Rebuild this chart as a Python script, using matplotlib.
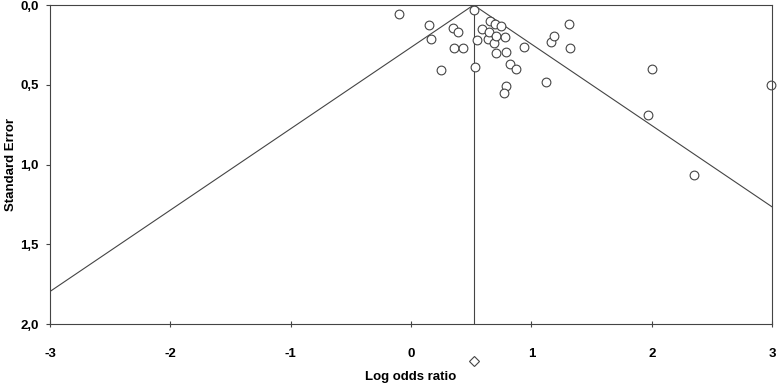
import numpy as np
import matplotlib.pyplot as plt
from matplotlib.ticker import FuncFormatter

# studies: log odds ratio and standard error
log_or = [-0.10, 0.15, 0.17, 0.35, 0.39, 0.36, 0.43, 0.25, 0.52, 0.53,
          0.55, 0.59, 0.64, 0.65, 0.66, 0.69, 0.71, 0.70, 0.75, 0.78,
          0.71, 0.79, 0.82, 0.87, 0.79, 0.77, 0.94, 1.12, 1.16, 1.19,
          1.31, 1.32, 2.00, 1.97, 2.35, 2.99]
std_err = [0.058, 0.123, 0.211, 0.146, 0.169, 0.268, 0.272, 0.408, 0.033, 0.387,
           0.219, 0.150, 0.213, 0.171, 0.098, 0.236, 0.194, 0.119, 0.132, 0.199,
           0.299, 0.295, 0.372, 0.403, 0.506, 0.552, 0.261, 0.483, 0.234, 0.192,
           0.121, 0.272, 0.401, 0.690, 1.064, 0.504]
pooled = 0.52
diamond_se = 2.23
x_ticks = [-3, -2, -1, 0, 1, 2, 3]
y_ticks = [0.0, 0.5, 1.0, 1.5, 2.0]

plt.rcParams['font.family'] = ['Liberation Sans', 'DejaVu Sans']

fig = plt.figure(figsize=(7.77, 3.85), dpi=100)
ax = fig.add_axes([0.0644, 0.1584, 0.9292, 0.8286])

col = '#444444'
# funnel (pseudo 95% limits)
se_line = np.array([0.0, 2.0])
ax.plot(pooled - 1.96 * se_line, se_line, color=col, lw=0.8)
ax.plot(pooled + 1.96 * se_line, se_line, color=col, lw=0.8)
ax.plot([pooled, pooled], [0, 2], color=col, lw=0.8)

ax.plot(log_or, std_err, 'o', mfc='white', mec=col, mew=0.8, ms=6.3, clip_on=False)
ax.plot([pooled], [diamond_se], 'D', mfc='white', mec=col, mew=0.8, ms=5, clip_on=False)

ax.set_xlim(-3, 3)
ax.set_ylim(2.0, 0.0)
ax.set_xticks(x_ticks)
ax.set_yticks(y_ticks)
ax.xaxis.set_major_formatter(FuncFormatter(lambda v, p: '%d' % v))
ax.yaxis.set_major_formatter(FuncFormatter(lambda v, p: ('%.1f' % v).replace('.', ',')))
ax.tick_params(axis='x', direction='inout', length=5, width=0.8, color=col, pad=15)
ax.tick_params(axis='y', direction='out', length=3, width=0.8, color=col, pad=5)
for lab in ax.get_xticklabels() + ax.get_yticklabels():
    lab.set_fontweight('bold')
    lab.set_fontsize(9.5)
for s in ax.spines.values():
    s.set_color(col)
    s.set_linewidth(0.8)

ax.set_xlabel('Log odds ratio', fontsize=9.5, fontweight='bold')
ax.set_ylabel('Standard Error', fontsize=9.5, fontweight='bold')
ax.xaxis.set_label_coords(0.5, -0.147)
ax.yaxis.set_label_coords(-0.046, 0.5)

fig.savefig('out.png', dpi=100)
